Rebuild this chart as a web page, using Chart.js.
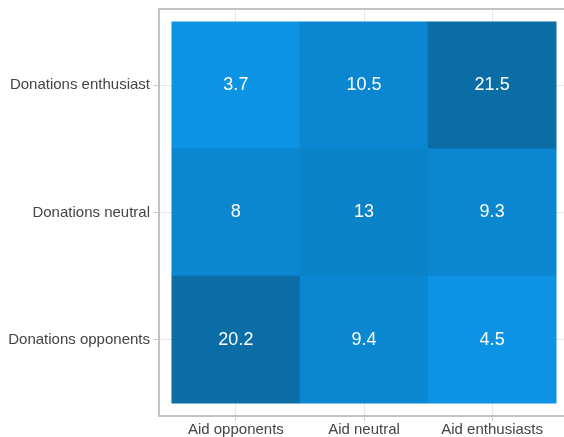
<!DOCTYPE html>
<html>
<head>
<meta charset="utf-8">
<script src="https://cdn.jsdelivr.net/npm/chart.js@4"></script>
<style>
  html, body { margin: 0; padding: 0; background: #fff; overflow: hidden; }
  #wrap { width: 574px; height: 437px; }
</style>
</head>
<body>
<div id="wrap"><canvas id="heat"></canvas></div>
<script>
// heatmap data, rows listed bottom to top
const columns = ['Aid opponents', 'Aid neutral', 'Aid enthusiasts'];
const rows = ['Donations opponents', 'Donations neutral', 'Donations enthusiast'];
const rowOpponents = [20.2, 9.4, 4.5];
const rowNeutral = [8, 13, 9.3];
const rowEnthusiast = [3.7, 10.5, 21.5];
const values = [rowOpponents, rowNeutral, rowEnthusiast];

function cellColor(v) {
  if (v < 6) return '#0c93e3';
  if (v < 12) return '#0b86d0';
  if (v < 16) return '#0a82c8';
  return '#0a6da6';
}

const datasets = rows.map((name, i) => ({
  label: name,
  data: columns.map((c, j) => ({ x: j + 0.5, y: [i, i + 1], v: values[i][j] })),
  backgroundColor: values[i].map(cellColor),
  borderWidth: 0,
  grouped: false,
  barPercentage: 1,
  categoryPercentage: 1
}));

// frame around the plot + value text
const framePlugin = {
  id: 'frame',
  afterDatasetsDraw(chart) {
    const { ctx, chartArea: a } = chart;
    ctx.save();
    ctx.strokeStyle = '#c2c2c2';
    ctx.lineWidth = 2;
    ctx.strokeRect(a.left, a.top, a.right - a.left, a.bottom - a.top);
    ctx.fillStyle = '#fff';
    ctx.font = '18px "Liberation Sans", Arial, sans-serif';
    ctx.textAlign = 'center';
    ctx.textBaseline = 'middle';
    chart.data.datasets.forEach((ds, i) => {
      chart.getDatasetMeta(i).data.forEach((bar, j) => {
        const mid = (bar.y + bar.base) / 2;
        ctx.fillText(String(ds.data[j].v), bar.x, mid);
      });
    });
    ctx.restore();
  }
};

const tickFont = { family: '"Liberation Sans", Arial, sans-serif', size: 15 };

new Chart(document.getElementById('heat'), {
  type: 'bar',
  data: { datasets },
  options: {
    responsive: true,
    maintainAspectRatio: false,
    animation: false,
    layout: { padding: { top: 9, right: 5, left: 0, bottom: 0 } },
    plugins: { legend: { display: false }, tooltip: { enabled: false } },
    scales: {
      x: {
        type: 'linear',
        offset: false,
        min: -0.1,
        max: 3.1,
        afterBuildTicks: s => { s.ticks = columns.map((c, j) => ({ value: j + 0.5 })); },
        afterFit: s => { s.height = 21; s.paddingLeft = 0; s.paddingRight = 0; },
        ticks: {
          color: '#444',
          font: tickFont,
          padding: 0,
          callback: (v) => columns[Math.floor(v)]
        },
        grid: { offset: false, color: '#e6e6e6', tickColor: '#d0d0d0', tickLength: 5 },
        border: { display: false }
      },
      y: {
        type: 'linear',
        min: -0.1,
        max: 3.1,
        afterBuildTicks: s => { s.ticks = rows.map((r, i) => ({ value: i + 0.5 })); },
        afterFit: s => { s.width = 159; s.paddingTop = 0; s.paddingBottom = 0; },
        ticks: {
          color: '#444',
          font: tickFont,
          padding: 3,
          callback: (v) => rows[Math.floor(v)]
        },
        grid: { color: '#e6e6e6', tickColor: '#d0d0d0', tickLength: 6 },
        border: { display: false }
      }
    }
  },
  plugins: [framePlugin]
});
</script>
</body>
</html>
